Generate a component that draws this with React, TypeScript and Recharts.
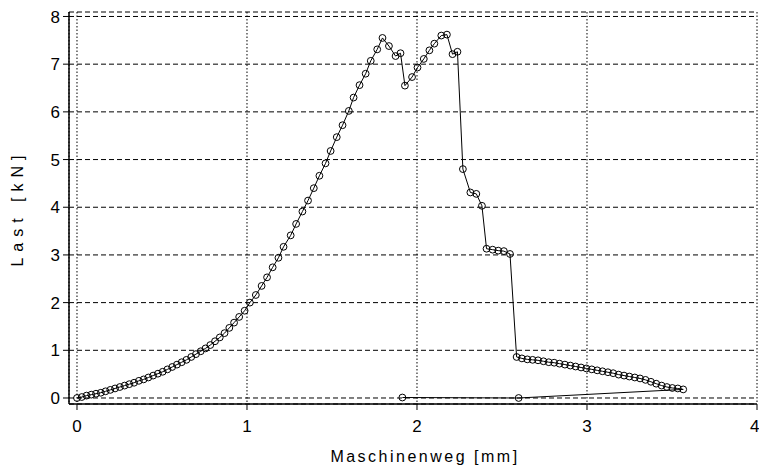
import React from 'react';
import { LineChart, Line, XAxis, YAxis, CartesianGrid, Label } from 'recharts';

// Maschinenweg [mm]
const weg = [
  0.0, 0.028, 0.056, 0.084, 0.112, 0.14, 0.168, 0.196, 0.224, 0.252,
  0.28, 0.308, 0.336, 0.364, 0.392, 0.42, 0.448, 0.476, 0.504, 0.532,
  0.56, 0.588, 0.616, 0.644, 0.672, 0.7, 0.728, 0.756, 0.784, 0.812,
  0.84, 0.868, 0.896, 0.924, 0.954, 0.986, 1.017, 1.052, 1.086, 1.118,
  1.151, 1.185, 1.215, 1.257, 1.289, 1.326, 1.359, 1.393, 1.426, 1.462,
  1.492, 1.528, 1.562, 1.599, 1.627, 1.662, 1.698, 1.728, 1.766, 1.797,
  1.835, 1.874, 1.903, 1.929, 1.971, 2.003, 2.04, 2.073, 2.102, 2.143,
  2.176, 2.209, 2.238,
  2.27, 2.314, 2.349, 2.382, 2.409, 2.445, 2.478, 2.511, 2.547,
  2.586, 2.617, 2.649, 2.68, 2.712, 2.744, 2.775, 2.807, 2.838, 2.87,
  2.902, 2.933, 2.965, 2.996, 3.028, 3.06, 3.091, 3.123, 3.154, 3.186,
  3.218, 3.249, 3.281, 3.312, 3.344, 3.376, 3.407, 3.439, 3.47, 3.502,
  3.534, 3.566,
  2.598, 1.914,
];

// Last [kN]
const last = [
  0.0, 0.02, 0.05, 0.07, 0.09, 0.11, 0.14, 0.17, 0.2, 0.23,
  0.26, 0.29, 0.32, 0.36, 0.39, 0.43, 0.47, 0.51, 0.55, 0.6,
  0.65, 0.7, 0.75, 0.8, 0.86, 0.92, 0.98, 1.04, 1.11, 1.19,
  1.27, 1.36, 1.47, 1.58, 1.7, 1.83, 2.0, 2.16, 2.35, 2.53,
  2.74, 2.94, 3.17, 3.41, 3.65, 3.91, 4.14, 4.4, 4.66, 4.92,
  5.18, 5.47, 5.72, 6.02, 6.3, 6.56, 6.8, 7.07, 7.31, 7.55,
  7.38, 7.17, 7.23, 6.55, 6.73, 6.93, 7.11, 7.29, 7.43, 7.6,
  7.62, 7.21, 7.26,
  4.8, 4.31, 4.28, 4.03, 3.13, 3.11, 3.09, 3.08, 3.02,
  0.86, 0.83, 0.81, 0.8, 0.79, 0.77, 0.75, 0.74, 0.72, 0.7,
  0.68, 0.66, 0.64, 0.62, 0.6, 0.58, 0.56, 0.54, 0.52, 0.49,
  0.47, 0.45, 0.43, 0.41, 0.38, 0.34, 0.3, 0.26, 0.23, 0.21,
  0.2, 0.18,
  0.0, 0.01,
];

const xTicks = [0, 1, 2, 3, 4];
const yTicks = [0, 1, 2, 3, 4, 5, 6, 7, 8];
const xTitle = 'Maschinenweg [mm]';
const yTitle = 'Last [kN]';

const data = weg.map((w, i) => ({ weg: w, last: last[i] }));

const FONT = '"Liberation Sans", Arial, Helvetica, sans-serif';
const xDomain: [number, number] = [-0.047, 4.0];
const yDomain: [number, number] = [-0.126, 8.094];

const XTitle = (props: any) => {
  const vb = props.viewBox || {};
  const cx = vb.x + vb.width / 2 + 12;
  return (
    <text x={cx} y={462} textAnchor="middle" fontFamily={FONT} fontSize={16}
      letterSpacing={2.5} fill="#000">{xTitle}</text>
  );
};

const YTitle = (props: any) => {
  const vb = props.viewBox || {};
  const cy = vb.y + vb.height / 2;
  const cx = 17;
  return (
    <text x={cx} y={cy} textAnchor="middle" dominantBaseline="central"
      transform={`rotate(-90, ${cx}, ${cy})`} fontFamily={FONT} fontSize={16}
      letterSpacing={6} fill="#000">{yTitle}</text>
  );
};

export default function App() {
  return (
    <div style={{ position: 'absolute', left: 0, top: 0, width: 759, height: 471, background: '#fff' }}>
      <LineChart width={759} height={471} data={data}
        margin={{ top: 12, right: 2, bottom: 0, left: 0 }}>
        <CartesianGrid horizontal={true} vertical={false} stroke="#000" strokeWidth={1}
          strokeDasharray="5 3" />
        <CartesianGrid horizontal={false} vertical={true} stroke="#000" strokeWidth={1}
          strokeDasharray="1.5 2" />
        <XAxis dataKey="weg" type="number" domain={xDomain} ticks={xTicks} allowDataOverflow
          height={67} tickSize={6} tickMargin={10}
          axisLine={{ stroke: '#000', strokeWidth: 1.5 }} tickLine={{ stroke: '#000' }}
          tick={{ fill: '#000', fontSize: 17, fontFamily: FONT }}>
          <Label content={XTitle} />
        </XAxis>
        <XAxis xAxisId="top" orientation="top" type="number" domain={xDomain} allowDataOverflow
          height={0} tick={false} tickLine={false} axisLine={{ stroke: '#000', strokeWidth: 1.5 }} />
        <YAxis type="number" domain={yDomain} ticks={yTicks} allowDataOverflow
          width={69} tickSize={6} tickMargin={3}
          axisLine={{ stroke: '#000', strokeWidth: 1.5 }} tickLine={{ stroke: '#000' }}
          tick={{ fill: '#000', fontSize: 17, fontFamily: FONT }}>
          <Label content={YTitle} />
        </YAxis>
        <YAxis yAxisId="right" orientation="right" type="number" domain={yDomain} allowDataOverflow
          width={0} tick={false} tickLine={false} axisLine={{ stroke: '#000', strokeWidth: 1.5 }} />
        <Line type="linear" dataKey="last" stroke="#000" strokeWidth={1}
          dot={{ r: 3.4, stroke: '#000', strokeWidth: 1, fill: 'none' }}
          activeDot={false} isAnimationActive={false} />
      </LineChart>
    </div>
  );
}
